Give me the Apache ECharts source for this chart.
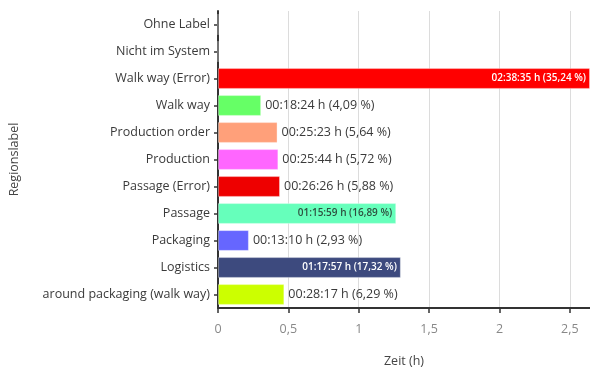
<!DOCTYPE html>
<html>
<head>
<meta charset="utf-8">
<script src="https://cdn.jsdelivr.net/npm/echarts@6/dist/echarts.min.js"></script>
<style>
  html, body { margin: 0; padding: 0; background: #fff; }
  #chart { width: 590px; height: 373px; }
</style>
</head>
<body>
<div id="chart"></div>
<script>
// Region labels, top to bottom
const categories = [
  'Ohne Label',
  'Nicht im System',
  'Walk way (Error)',
  'Walk way',
  'Production order',
  'Production',
  'Passage (Error)',
  'Passage',
  'Packaging',
  'Logistics',
  'around packaging (walk way)'
];

// Time spent per region (hh:mm:ss), empty where there is none
const durations = [
  '', '', '02:38:35', '00:18:24', '00:25:23', '00:25:44',
  '00:26:26', '01:15:59', '00:13:10', '01:17:57', '00:28:17'
];

// Share of total time, in percent
const shares = [
  null, null, '35,24', '4,09', '5,64', '5,72',
  '5,88', '16,89', '2,93', '17,32', '6,29'
];

const colors = [
  '#cccccc', '#cccccc', '#ff0000', '#66ff66', '#ffa07a', '#ff66ff',
  '#ee0000', '#66ffbb', '#6666ff', '#3d4a7e', '#ccff00'
];

// Long bars carry their label inside
const insideLabel = [false, false, true, false, false, false, false, true, false, true, false];
const insideLabelColor = ['', '', '#ffffff', '', '', '', '', '#2f4f3f', '', '#ffffff', ''];

const xTickLabels = ['0', '0,5', '1', '1,5', '2', '2,5'];

function toHours(t) {
  if (!t) return 0;
  const [h, m, s] = t.split(':').map(Number);
  return h + m / 60 + s / 3600;
}

const hours = durations.map(toHours);
const maxHours = Math.max(...hours);

const FONT = '"Open Sans", sans-serif';

const data = hours.map((v, i) => {
  const item = {
    value: v,
    itemStyle: { color: colors[i] }
  };
  if (!durations[i]) {
    item.label = { show: false };
  } else if (insideLabel[i]) {
    item.label = {
      show: true,
      position: 'insideRight',
      distance: 4,
      fontSize: 10,
      fontWeight: 600,
      color: insideLabelColor[i]
    };
  }
  return item;
});

const chart = echarts.init(document.getElementById('chart'), null, { renderer: 'canvas' });

chart.setOption({
  animation: false,
  backgroundColor: '#ffffff',
  textStyle: { fontFamily: FONT },
  grid: { left: 217, right: 0, top: 11, bottom: 62, containLabel: false },
  xAxis: {
    type: 'value',
    min: 0,
    max: maxHours,
    interval: 0.5,
    name: 'Zeit (h)',
    nameLocation: 'middle',
    nameGap: 47,
    nameTextStyle: { fontFamily: FONT, fontSize: 12.5, color: '#444' },
    axisLine: { show: true, lineStyle: { color: '#333', width: 2 } },
    axisTick: { show: true, length: 5, lineStyle: { color: '#333', width: 1.5 } },
    axisLabel: {
      fontFamily: FONT,
      fontSize: 12.5,
      color: '#888',
      margin: 15,
      showMaxLabel: false,
      formatter: (v) => {
        const idx = Math.round(v / 0.5);
        return Math.abs(idx * 0.5 - v) < 1e-9 && xTickLabels[idx] !== undefined ? xTickLabels[idx] : '';
      }
    },
    splitLine: { show: true, lineStyle: { color: '#dcdcdc', width: 1 } }
  },
  yAxis: {
    type: 'category',
    data: categories,
    inverse: true,
    name: 'Regionslabel',
    nameLocation: 'middle',
    nameGap: 197,
    nameTextStyle: { fontFamily: FONT, fontSize: 12.5, color: '#444' },
    axisLine: { show: true, lineStyle: { color: '#333', width: 2 } },
    axisTick: { show: true, alignWithLabel: true, length: 4, lineStyle: { color: '#333', width: 1.5 } },
    axisLabel: { fontFamily: FONT, fontSize: 12.5, color: '#3a3a3a', margin: 8 },
    splitLine: { show: false }
  },
  series: [{
    type: 'bar',
    data: data,
    barCategoryGap: '23%',
    itemStyle: { borderColor: 'rgba(255,255,255,0.35)', borderWidth: 1 },
    label: {
      show: true,
      position: 'right',
      distance: 4,
      fontFamily: FONT,
      fontSize: 12.5,
      color: '#3a3a3a',
      formatter: (p) => durations[p.dataIndex] ? durations[p.dataIndex] + ' h (' + shares[p.dataIndex] + ' %)' : ''
    }
  }]
});
</script>
</body>
</html>
